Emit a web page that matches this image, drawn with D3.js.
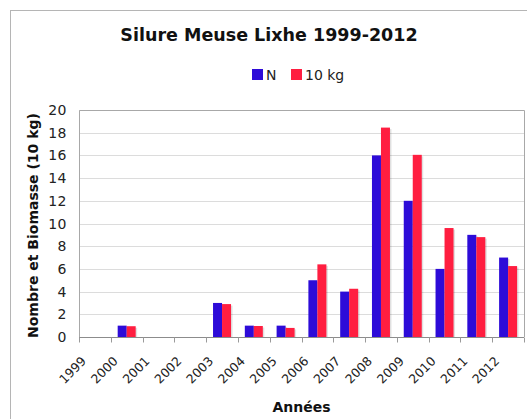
<!DOCTYPE html>
<html>
<head>
<meta charset="utf-8">
<script src="https://cdn.jsdelivr.net/npm/d3@7"></script>
<style>
  body { margin: 0; background: #fff; }
  svg { display: block; font-family: "DejaVu Sans", Verdana, sans-serif; }
</style>
</head>
<body>
<svg id="chart" width="527" height="419"></svg>
<script>
// Données
const years = ['1999', '2000', '2001', '2002', '2003', '2004', '2005', '2006', '2007', '2008', '2009', '2010', '2011', '2012'];
const nombre = [0, 1, 0, 0, 3, 1, 1, 5, 4, 16, 12, 6, 9, 7];
const biomasse = [0, 0.95, 0, 0, 2.9, 0.97, 0.8, 6.4, 4.25, 18.45, 16.05, 9.6, 8.8, 6.25];
const seriesNames = ['N', '10 kg'];
const colors = ['#2d0bd8', '#ff1e40'];
const yTicks = [0, 2, 4, 6, 8, 10, 12, 14, 16, 18, 20];

const svg = d3.select('#chart');
const margin = { left: 79, top: 110, right: 3, bottom: 82 };
const width = 527, height = 419;

// Cadre extérieur
svg.append('rect')
    .attr('x', 10.5).attr('y', 10.5)
    .attr('width', 530).attr('height', 420)
    .attr('fill', '#fff').attr('stroke', '#b5b5b5');

const x = d3.scaleBand()
    .domain(years)
    .range([margin.left, width - margin.right]);

const y = d3.scaleLinear()
    .domain([0, 20])
    .range([height - margin.bottom, margin.top]);

// Grille
svg.append('g')
    .selectAll('line')
    .data(yTicks.slice(1))
    .join('line')
    .attr('x1', margin.left).attr('x2', width - margin.right)
    .attr('y1', d => Math.round(y(d)) + 0.5).attr('y2', d => Math.round(y(d)) + 0.5)
    .attr('stroke', '#dcdcdc');

// Bordure du graphique
svg.append('path')
    .attr('d', `M${margin.left + 0.5},${y(0)} V${margin.top + 0.5} H${width - margin.right + 0.5} V${y(0)}`)
    .attr('fill', 'none').attr('stroke', '#a8a8a8');

// Barres
const sub = d3.scaleBand()
    .domain([0, 1])
    .range([0, 18]);

const data = years.map((yr, i) => ({ year: yr, vals: [nombre[i], biomasse[i]] }));

const groups = svg.append('g')
    .selectAll('g')
    .data(data)
    .join('g')
    .attr('transform', d => `translate(${x(d.year) + x.bandwidth() / 2 - 9},0)`);

// Ombre légère
groups.selectAll('rect.shadow')
    .data(d => d.vals.map((v, k) => ({ v, k })).filter(e => e.v > 0))
    .join('rect')
    .attr('class', 'shadow')
    .attr('x', e => sub(e.k) + 1.5)
    .attr('y', e => y(e.v) + 1.5)
    .attr('width', sub.bandwidth())
    .attr('height', e => y(0) - y(e.v) - 1.5)
    .attr('fill', '#000').attr('opacity', 0.12);

groups.selectAll('rect.bar')
    .data(d => d.vals.map((v, k) => ({ v, k })).filter(e => e.v > 0))
    .join('rect')
    .attr('class', 'bar')
    .attr('x', e => sub(e.k))
    .attr('y', e => y(e.v))
    .attr('width', sub.bandwidth())
    .attr('height', e => y(0) - y(e.v))
    .attr('fill', e => colors[e.k]);

// Axe X
const axisY0 = Math.round(y(0)) + 0.5;
svg.append('line')
    .attr('x1', margin.left).attr('x2', width - margin.right)
    .attr('y1', axisY0).attr('y2', axisY0)
    .attr('stroke', '#8c8c8c');

svg.append('g')
    .selectAll('line')
    .data(years.concat(['end']))
    .join('line')
    .attr('x1', (d, i) => Math.round(margin.left + i * x.step()) + 0.5)
    .attr('x2', (d, i) => Math.round(margin.left + i * x.step()) + 0.5)
    .attr('y1', axisY0).attr('y2', axisY0 + 5)
    .attr('stroke', '#9a9a9a');

svg.append('g')
    .selectAll('text')
    .data(years)
    .join('text')
    .attr('transform', d => `translate(${x(d) + x.bandwidth() / 2 - 8},${y(0) + 25}) rotate(-45)`)
    .attr('text-anchor', 'end')
    .attr('font-size', 12.5)
    .attr('fill', '#222')
    .text(d => d);

// Axe Y
svg.append('g')
    .selectAll('text')
    .data(yTicks)
    .join('text')
    .attr('x', 67)
    .attr('y', d => y(d) + 5)
    .attr('text-anchor', 'end')
    .attr('font-size', 14)
    .attr('letter-spacing', 0.5)
    .attr('fill', '#222')
    .text(d => d);

// Titres
svg.append('text')
    .attr('x', 269).attr('y', 41)
    .attr('text-anchor', 'middle')
    .attr('font-size', 17.5).attr('font-weight', 'bold')
    .attr('fill', '#111')
    .text('Silure Meuse Lixhe 1999-2012');

svg.append('text')
    .attr('transform', `translate(38,${(margin.top + y(0)) / 2 + 2}) rotate(-90)`)
    .attr('text-anchor', 'middle')
    .attr('font-size', 14).attr('font-weight', 'bold')
    .attr('fill', '#111')
    .text('Nombre et Biomasse (10 kg)');

svg.append('text')
    .attr('x', (margin.left + width - margin.right) / 2).attr('y', 412)
    .attr('text-anchor', 'middle')
    .attr('font-size', 14).attr('font-weight', 'bold')
    .attr('fill', '#111')
    .text('Années');

// Légende
const legend = svg.append('g')
    .selectAll('g')
    .data(seriesNames)
    .join('g')
    .attr('transform', (d, i) => `translate(${[252, 291][i]},69)`);

legend.append('rect')
    .attr('width', 11).attr('height', 11)
    .attr('fill', (d, i) => colors[i]);

legend.append('text')
    .attr('x', 14).attr('y', 11)
    .attr('font-size', 14)
    .attr('fill', '#222')
    .text(d => d);
</script>
</body>
</html>
